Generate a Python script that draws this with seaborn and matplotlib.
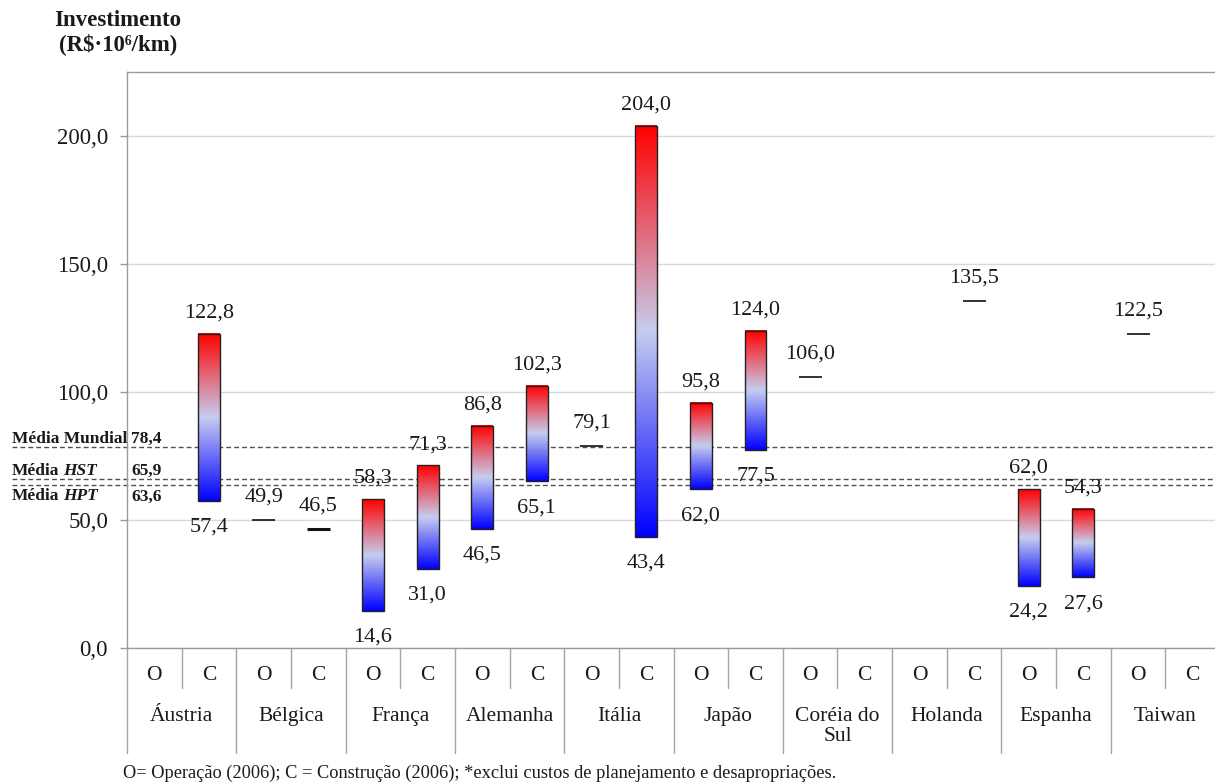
import numpy as np
import pandas as pd
import matplotlib
matplotlib.use("Agg")
import matplotlib.pyplot as plt
import matplotlib.transforms as mtransforms
from matplotlib.colors import LinearSegmentedColormap
import seaborn as sns

# ---- data -------------------------------------------------------------
countries = ["Áustria", "Bélgica", "França", "Alemanha", "Itália", "Japão",
             "Coréia do\nSul", "Holanda", "Espanha", "Taiwan"]
phases = ["O", "C"]
nan = np.nan
# lowest / highest investment per country and phase (O, C, O, C, ...)
low_vals = [nan, 57.4, 49.9, 46.5, 14.6, 31.0, 46.5, 65.1, 79.1, 43.4,
            62.0, 77.5, 106.0, nan, nan, 135.5, 24.2, 27.6, 122.5, nan]
high_vals = [nan, 122.8, 49.9, 46.5, 58.3, 71.3, 86.8, 102.3, 79.1, 204.0,
             95.8, 124.0, 106.0, nan, nan, 135.5, 62.0, 54.3, 122.5, nan]
avg_names = ["Mundial", "HST", "HPT"]
avg_values = [78.4, 65.9, 63.6]
y_ticks = [0, 50, 100, 150, 200]
title_lines = ["Investimento", "(R$·10⁶/km)"]
footnote = ("O= Operação (2006); C = Construção (2006); "
            "*exclui custos de planejamento e desapropriações.")

# ---- styling ----------------------------------------------------------
sns.set_theme(style="white")
plt.rcParams["font.family"] = ["Liberation Serif", "DejaVu Serif"]
plt.rcParams["text.color"] = "#1a1a1a"

W, H = 1215, 783
fig = plt.figure(figsize=(W / 100, H / 100), dpi=100)
ax_l, ax_r, ax_t, ax_b = 127, 1220, 72, 648
ax = fig.add_axes([ax_l / W, (H - ax_b) / H, (ax_r - ax_l) / W, (ax_b - ax_t) / H])
ax_h_px = ax_b - ax_t

slots = [f"{c}|{p}" for c in countries for p in phases]
df = pd.DataFrame({"slot": slots, "low": low_vals, "high": high_vals})
df["span"] = df["high"] - df["low"]
ranges = df[df["span"] > 0].reset_index(drop=True)
singles = df[df["span"] == 0]

# range bars (drawn transparent, filled afterwards with a vertical gradient)
sns.barplot(data=ranges, x="slot", y="span", order=slots, bottom=ranges["low"].values,
            width=0.4, errorbar=None, color="white", facecolor="none",
            edgecolor="#222222", linewidth=1.0, ax=ax)

grad_cmap = LinearSegmentedColormap.from_list(
    "bluered", [(0.0, "#0000ff"), (0.5, "#c6cdee"), (1.0, "#ff0000")])
grad = np.linspace(0, 1, 256).reshape(-1, 1)
for patch in list(ax.patches):
    x0, y0 = patch.get_x(), patch.get_y()
    w, h = patch.get_width(), patch.get_height()
    ax.imshow(grad, cmap=grad_cmap, origin="lower", aspect="auto",
              extent=[x0, x0 + w, y0, y0 + h], zorder=2, interpolation="bicubic")
    patch.set_zorder(4)
    patch.set_edgecolor("#222222")
    patch.set_linewidth(1.0)

# single-value marks
slot_pos = {s: i for i, s in enumerate(slots)}
for _, r in singles.iterrows():
    i = slot_pos[r["slot"]]
    lw = 2.2 if r["slot"] == "Bélgica|C" else 1.2
    ax.hlines(r["high"], i - 0.21, i + 0.21, color="#111111", lw=lw, zorder=3)
    ax.annotate(f"{r['high']:.1f}".replace(".", ","), (i, r["high"]),
                xytext=(0, 16.5), textcoords="offset points",
                ha="center", va="center", fontsize=16)

# value labels of the range bars
for _, r in ranges.iterrows():
    i = slot_pos[r["slot"]]
    ax.annotate(f"{r['high']:.1f}".replace(".", ","), (i, r["high"]),
                xytext=(0, 15), textcoords="offset points",
                ha="center", va="center", fontsize=16)
    ax.annotate(f"{r['low']:.1f}".replace(".", ","), (i, r["low"]),
                xytext=(0, -19), textcoords="offset points",
                ha="center", va="center", fontsize=16)

# axes limits and frame
ax.set_xlim(-0.5, len(slots) - 0.5)
ax.set_ylim(0, 225)
ax.set_xlabel("")
ax.set_ylabel("")
for s in ax.spines.values():
    s.set_color("#9a9a9a")
    s.set_linewidth(1.0)
ax.set_axisbelow(True)
ax.yaxis.grid(True, color="#dadada", lw=1.0)
ax.set_yticks(y_ticks, labels=[f"{v:.1f}".replace(".", ",") for v in y_ticks])
ax.tick_params(axis="y", left=True, length=5, width=1, color="#9a9a9a",
               pad=8.6, labelsize=16.5, labelcolor="#1a1a1a")
ax.set_xticks([])

# category table under the axis
tr_x = mtransforms.blended_transform_factory(ax.transData, ax.transAxes)
for k in range(len(slots) + 1):
    depth = 105 if k % 2 == 0 else 40
    ax.plot([k - 0.5, k - 0.5], [0, -depth / ax_h_px], transform=tr_x,
            clip_on=False, color="#a6a6a6", lw=1.0)
for i, s in enumerate(slots):
    ax.text(i, -28 / ax_h_px, s.split("|")[1], transform=tr_x,
            ha="center", va="center", fontsize=15.5)
for j, c in enumerate(countries):
    ax.text(2 * j + 0.5, -59 / ax_h_px, c, transform=tr_x, ha="center",
            va="top", fontsize=15.5, linespacing=1.1)

# reference averages
tr_y = mtransforms.blended_transform_factory(ax.transAxes, ax.transData)
x_start = (12 - ax_l) / (ax_r - ax_l)
x_val = 4 / (ax_r - ax_l)
for name, v in zip(avg_names, avg_values):
    ax.plot([x_start, 1.0], [v, v], transform=tr_y, clip_on=False,
            color="#505050", lw=1.0, ls=(0, (3.5, 2.2)), zorder=1)
    dy = -11 if name == "HPT" else 3
    t1 = ax.annotate("Média" if name != "Mundial" else "Média Mundial",
                     (x_start, v), xycoords=tr_y, xytext=(0, dy),
                     textcoords="offset points", ha="left", va="baseline",
                     fontsize=12.5, fontweight="bold", annotation_clip=False)
    if name != "Mundial":
        ax.annotate(name, (1, 0), xycoords=t1, xytext=(2.5, 0),
                    textcoords="offset points", ha="left", va="bottom",
                    fontsize=12.5, fontweight="bold", fontstyle="italic")
    ax.annotate(f"{v:.1f}".replace(".", ","), (x_val, v), xycoords=tr_y,
                xytext=(0, dy), textcoords="offset points", ha="left",
                va="baseline", fontsize=12.5, fontweight="bold",
                annotation_clip=False)

# title and footnote
fig.text(118 / W, 1 - 20 / H, title_lines[0], ha="center", va="center",
         fontsize=16.5, fontweight="bold")
fig.text(118 / W, 1 - 44 / H, title_lines[1], ha="center", va="center",
         fontsize=16.5, fontweight="bold")
fig.text(123 / W, 10 / H, footnote, ha="left", va="center", fontsize=13.2)

fig.savefig("out.png", dpi=100, facecolor="white")
